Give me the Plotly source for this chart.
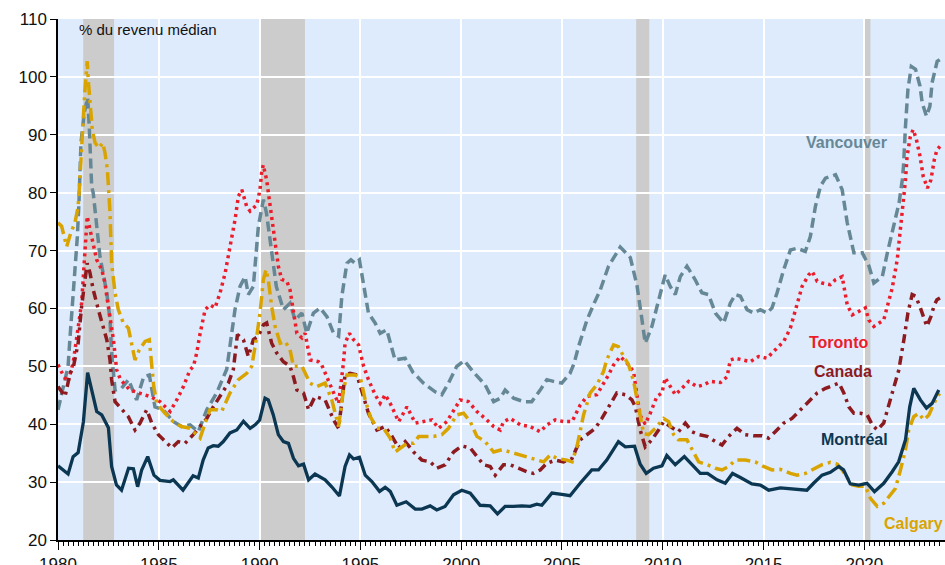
import plotly.graph_objects as go

# ---------------- data ----------------
mtl_x = [1980.0, 1980.5, 1980.75, 1981.0, 1981.26, 1981.47, 1981.92, 1982.17, 1982.5, 1982.66, 1982.9, 1983.15, 1983.5, 1983.74, 1983.95, 1984.15, 1984.45, 1984.76, 1985.06, 1985.56, 1985.72, 1986.2, 1986.7, 1986.96, 1987.2, 1987.45, 1987.7, 1987.95, 1988.2, 1988.53, 1988.87, 1989.2, 1989.53, 1989.78, 1990.0, 1990.27, 1990.43, 1990.68, 1990.93, 1991.18, 1991.43, 1991.68, 1991.93, 1992.18, 1992.43, 1992.75, 1993.25, 1993.58, 1993.96, 1994.24, 1994.46, 1994.66, 1994.95, 1995.24, 1995.57, 1995.95, 1996.23, 1996.48, 1996.81, 1997.27, 1997.72, 1998.05, 1998.46, 1998.79, 1999.2, 1999.62, 2000.03, 2000.45, 2000.94, 2001.44, 2001.8, 2002.18, 2002.6, 2003.01, 2003.42, 2003.75, 2004.0, 2004.5, 2004.99, 2005.4, 2005.9, 2006.48, 2006.81, 2007.22, 2007.8, 2008.14, 2008.6, 2008.88, 2009.18, 2009.54, 2009.96, 2010.2, 2010.62, 2011.07, 2011.45, 2011.86, 2012.22, 2012.69, 2013.1, 2013.46, 2013.85, 2014.42, 2014.84, 2015.25, 2015.83, 2016.49, 2017.15, 2017.48, 2017.9, 2018.31, 2018.73, 2018.97, 2019.3, 2019.72, 2020.13, 2020.5, 2020.96, 2021.38, 2021.7, 2022.04, 2022.25, 2022.45, 2022.78, 2023.08, 2023.36, 2023.69]
mtl_y = [32.8, 31.4, 34.4, 35.1, 40.4, 48.9, 42.2, 41.6, 39.4, 32.7, 29.5, 28.6, 32.4, 32.3, 29.2, 32.1, 34.4, 31.2, 30.3, 30.1, 30.4, 28.6, 31.1, 30.7, 33.8, 35.9, 36.3, 36.2, 37.0, 38.5, 39.0, 40.5, 39.3, 39.9, 40.7, 44.5, 44.2, 41.6, 38.2, 37.0, 36.7, 34.1, 32.8, 33.1, 30.4, 31.4, 30.4, 29.2, 27.6, 32.7, 34.7, 34.0, 34.3, 31.2, 30.1, 28.4, 29.1, 28.4, 26.0, 26.6, 25.35, 25.35, 25.9, 25.2, 25.8, 27.8, 28.6, 28.1, 26.0, 25.9, 24.5, 25.8, 25.8, 25.9, 25.8, 26.2, 26.0, 28.1, 27.9, 27.65, 29.8, 32.1, 32.1, 33.8, 37.0, 36.1, 36.2, 33.1, 31.5, 32.4, 32.8, 34.6, 33.0, 34.4, 33.0, 31.5, 31.5, 30.4, 29.8, 31.5, 30.8, 29.7, 29.5, 28.6, 29.0, 28.8, 28.6, 29.8, 31.2, 31.7, 32.7, 32.1, 29.7, 29.5, 29.8, 28.35, 29.8, 31.8, 33.5, 37.3, 43.0, 46.2, 44.2, 42.8, 43.6, 45.9]

van_x = [1980.0, 1980.5, 1980.6, 1980.77, 1980.96, 1981.04, 1981.14, 1981.3, 1981.47, 1981.55, 1981.67, 1981.75, 1981.92, 1982.08, 1982.42, 1982.58, 1982.66, 1982.83, 1983.15, 1983.5, 1983.9, 1984.25, 1984.53, 1984.81, 1985.22, 1985.72, 1986.13, 1986.55, 1986.96, 1987.38, 1987.87, 1988.37, 1988.53, 1988.78, 1989.03, 1989.28, 1989.44, 1989.69, 1989.94, 1990.19, 1990.34, 1990.58, 1990.83, 1991.18, 1991.51, 1991.76, 1992.1, 1992.34, 1992.67, 1993.0, 1993.34, 1993.67, 1993.92, 1994.08, 1994.33, 1994.53, 1994.74, 1994.95, 1995.16, 1995.4, 1995.73, 1995.98, 1996.31, 1996.56, 1996.72, 1997.22, 1997.6, 1998.13, 1998.71, 1999.04, 1999.37, 1999.78, 2000.15, 2000.61, 2001.19, 2001.61, 2001.94, 2002.18, 2002.6, 2003.1, 2003.5, 2003.92, 2004.25, 2004.58, 2004.99, 2005.4, 2005.6, 2005.82, 2006.24, 2006.57, 2006.9, 2007.31, 2007.89, 2008.39, 2008.72, 2008.97, 2009.13, 2009.46, 2009.79, 2010.12, 2010.37, 2010.62, 2010.87, 2011.2, 2011.61, 2011.94, 2012.27, 2012.61, 2013.02, 2013.35, 2013.6, 2013.85, 2014.18, 2014.51, 2014.84, 2015.17, 2015.42, 2015.67, 2016.0, 2016.33, 2016.66, 2017.07, 2017.32, 2017.57, 2017.82, 2018.07, 2018.57, 2018.9, 2019.15, 2019.48, 2019.9, 2020.23, 2020.47, 2020.89, 2021.14, 2021.47, 2021.72, 2021.88, 2021.94, 2022.04, 2022.16, 2022.33, 2022.54, 2022.76, 2022.87, 2023.08, 2023.25, 2023.36, 2023.61, 2023.75]
van_y = [42.5, 50.0, 55.2, 63.2, 72.4, 78.3, 88.6, 93.8, 96.4, 91.5, 81.1, 79.9, 73.6, 69.0, 62.7, 58.0, 52.3, 45.9, 46.2, 47.7, 44.2, 48.2, 48.5, 43.0, 42.5, 40.45, 39.6, 39.9, 38.7, 42.5, 45.4, 49.5, 53.5, 59.8, 63.8, 65.5, 62.4, 63.8, 74.2, 78.8, 76.5, 70.7, 63.8, 59.8, 60.9, 58.0, 59.2, 55.7, 59.2, 60.1, 58.6, 55.7, 55.2, 62.1, 67.8, 68.4, 67.8, 68.4, 63.8, 59.2, 57.5, 55.7, 56.3, 53.4, 51.1, 51.4, 49.0, 47.1, 45.6, 45.1, 47.1, 50.0, 51.0, 49.0, 46.8, 43.9, 44.5, 45.9, 44.5, 43.9, 43.9, 45.9, 47.7, 47.4, 47.1, 48.8, 50.5, 53.4, 58.0, 60.7, 63.2, 67.3, 70.6, 68.8, 64.0, 58.0, 54.0, 56.9, 61.5, 65.8, 63.8, 62.4, 65.5, 67.3, 64.95, 62.7, 62.4, 59.2, 57.5, 60.9, 62.4, 62.1, 59.8, 59.2, 59.8, 59.2, 60.1, 62.7, 66.7, 70.1, 70.4, 69.85, 72.4, 77.6, 81.1, 82.5, 83.1, 80.5, 74.8, 69.6, 69.6, 67.3, 64.4, 65.5, 69.6, 74.2, 78.2, 82.2, 84.5, 91.5, 97.8, 101.8, 101.3, 98.4, 95.5, 93.2, 94.9, 99.0, 102.7, 103.0]

tor_x = [1980.0, 1980.25, 1980.5, 1980.75, 1981.17, 1981.33, 1981.45, 1981.59, 1981.75, 1981.92, 1982.17, 1982.33, 1982.42, 1982.58, 1982.75, 1982.91, 1983.1, 1983.57, 1983.98, 1984.56, 1985.06, 1985.56, 1985.89, 1986.22, 1986.55, 1986.72, 1986.88, 1987.05, 1987.3, 1987.54, 1987.79, 1988.04, 1988.29, 1988.54, 1988.78, 1988.95, 1989.12, 1989.36, 1989.53, 1989.86, 1990.02, 1990.1, 1990.18, 1990.35, 1990.48, 1990.6, 1990.77, 1990.93, 1991.1, 1991.35, 1991.51, 1991.68, 1991.85, 1992.1, 1992.26, 1992.51, 1992.92, 1993.08, 1993.25, 1993.42, 1993.75, 1993.92, 1994.08, 1994.16, 1994.24, 1994.46, 1994.66, 1994.91, 1995.16, 1995.4, 1995.73, 1995.98, 1996.23, 1996.48, 1996.9, 1997.31, 1997.72, 1998.13, 1998.55, 1998.88, 1999.29, 1999.7, 1999.95, 2000.36, 2000.78, 2001.19, 2001.61, 2001.94, 2002.1, 2002.43, 2002.93, 2003.42, 2003.92, 2004.25, 2004.67, 2005.08, 2005.5, 2005.9, 2006.24, 2006.73, 2006.98, 2007.31, 2007.56, 2007.89, 2008.22, 2008.55, 2008.72, 2008.88, 2009.13, 2009.38, 2009.71, 2009.96, 2010.12, 2010.37, 2010.62, 2010.87, 2011.28, 2011.7, 2012.03, 2012.36, 2012.86, 2013.19, 2013.35, 2013.6, 2014.01, 2014.34, 2014.75, 2015.17, 2015.58, 2016.0, 2016.33, 2016.58, 2016.91, 2017.24, 2017.41, 2017.66, 2017.9, 2018.31, 2018.56, 2018.9, 2019.15, 2019.4, 2019.72, 2020.05, 2020.22, 2020.47, 2020.96, 2021.14, 2021.38, 2021.63, 2021.8, 2021.94, 2022.04, 2022.12, 2022.28, 2022.42, 2022.58, 2022.76, 2022.92, 2023.13, 2023.3, 2023.47, 2023.6, 2023.75]
tor_y = [50.3, 48.5, 47.3, 50.6, 60.9, 70.7, 75.9, 73.6, 70.7, 68.4, 66.7, 64.4, 62.1, 58.6, 54.6, 49.4, 47.7, 45.9, 45.4, 44.8, 43.9, 42.2, 44.2, 46.5, 49.4, 50.0, 52.3, 55.7, 59.8, 60.6, 60.1, 62.7, 66.1, 70.7, 75.3, 79.4, 80.5, 77.6, 76.8, 77.9, 80.5, 83.4, 84.8, 82.2, 78.8, 74.8, 70.7, 67.3, 65.0, 64.7, 63.2, 59.2, 55.7, 54.9, 55.7, 51.1, 50.8, 50.25, 48.8, 47.7, 44.8, 43.6, 47.7, 50.6, 54.0, 55.7, 54.6, 53.7, 50.0, 47.7, 45.1, 43.6, 45.1, 43.6, 40.45, 43.0, 40.2, 40.45, 40.75, 39.3, 40.45, 42.8, 44.2, 43.9, 42.2, 41.0, 39.6, 39.0, 40.45, 41.0, 39.9, 39.6, 38.7, 39.9, 40.75, 40.45, 40.45, 43.3, 44.8, 45.1, 46.5, 48.5, 50.25, 51.7, 50.6, 49.1, 45.0, 41.5, 40.0, 41.9, 44.8, 45.4, 48.0, 46.5, 45.1, 45.9, 47.4, 46.5, 46.8, 47.4, 47.2, 48.2, 51.1, 51.4, 51.1, 50.8, 51.7, 51.4, 52.85, 54.3, 56.6, 59.8, 63.8, 65.8, 66.4, 64.7, 64.4, 64.1, 64.95, 65.5, 60.6, 58.9, 59.5, 60.1, 58.0, 56.9, 58.0, 60.4, 63.5, 68.4, 73.6, 78.8, 82.2, 86.3, 89.7, 90.9, 89.2, 86.3, 82.8, 80.8, 82.2, 85.7, 87.4, 88.0]

can_x = [1980.0, 1980.35, 1980.6, 1980.77, 1981.0, 1981.17, 1981.34, 1981.45, 1981.59, 1981.75, 1982.0, 1982.25, 1982.42, 1982.58, 1982.66, 1982.83, 1983.16, 1983.49, 1983.82, 1984.07, 1984.4, 1984.65, 1984.98, 1985.31, 1985.65, 1985.97, 1986.3, 1986.71, 1987.05, 1987.38, 1987.7, 1988.04, 1988.45, 1988.7, 1988.9, 1989.2, 1989.44, 1989.69, 1989.94, 1990.19, 1990.35, 1990.6, 1990.85, 1991.18, 1991.51, 1991.68, 1991.85, 1992.18, 1992.43, 1992.75, 1993.25, 1993.67, 1993.92, 1994.24, 1994.49, 1994.83, 1995.07, 1995.4, 1995.82, 1996.23, 1996.57, 1996.9, 1997.22, 1997.64, 1998.05, 1998.46, 1998.79, 1999.2, 1999.62, 2000.03, 2000.45, 2000.78, 2001.11, 2001.44, 2001.69, 2002.1, 2002.43, 2002.84, 2003.25, 2003.58, 2003.92, 2004.25, 2004.67, 2005.08, 2005.5, 2005.9, 2006.24, 2006.65, 2006.98, 2007.31, 2007.72, 2008.14, 2008.47, 2008.64, 2008.88, 2009.13, 2009.46, 2009.79, 2010.04, 2010.37, 2010.78, 2011.12, 2011.45, 2011.78, 2012.2, 2012.61, 2012.94, 2013.27, 2013.68, 2014.09, 2014.51, 2014.92, 2015.25, 2015.58, 2016.0, 2016.41, 2016.82, 2017.24, 2017.66, 2018.07, 2018.49, 2018.74, 2018.98, 2019.23, 2019.48, 2019.81, 2020.14, 2020.39, 2020.64, 2020.96, 2021.21, 2021.46, 2021.71, 2021.96, 2022.16, 2022.37, 2022.54, 2022.76, 2022.96, 2023.1, 2023.3, 2023.47, 2023.6, 2023.75]
can_y = [46.5, 44.8, 48.8, 50.0, 54.0, 60.3, 64.95, 67.8, 66.1, 63.2, 59.8, 56.9, 54.6, 51.1, 47.7, 43.9, 42.5, 41.3, 39.0, 40.2, 42.5, 40.2, 38.2, 37.0, 35.9, 37.0, 36.7, 38.2, 39.6, 41.0, 43.0, 44.8, 47.1, 49.5, 55.5, 54.6, 51.7, 54.6, 55.2, 57.2, 57.5, 54.0, 52.3, 50.8, 50.0, 48.2, 45.9, 45.4, 42.5, 44.8, 44.2, 40.75, 39.3, 48.5, 48.8, 48.5, 45.6, 41.9, 39.0, 39.6, 37.9, 35.9, 37.0, 35.2, 33.8, 33.5, 32.4, 33.0, 35.2, 36.25, 35.9, 34.4, 33.0, 32.7, 31.2, 33.0, 33.0, 32.4, 31.8, 31.5, 32.1, 33.25, 33.8, 33.5, 34.1, 37.3, 38.2, 39.3, 41.0, 43.0, 45.4, 45.1, 44.2, 43.0, 39.0, 36.1, 37.3, 39.0, 40.45, 39.6, 38.7, 40.2, 38.7, 38.2, 37.9, 37.0, 36.4, 37.9, 39.3, 38.2, 38.0, 38.0, 37.6, 38.7, 40.2, 41.0, 42.5, 43.9, 45.4, 46.2, 46.8, 47.1, 45.4, 43.0, 41.9, 41.9, 41.6, 39.9, 39.0, 40.2, 43.3, 46.5, 49.4, 54.6, 59.2, 62.4, 62.1, 60.3, 58.3, 56.9, 58.6, 60.6, 61.5, 61.8]

cal_x = [1980.0, 1980.18, 1980.43, 1980.63, 1980.84, 1981.0, 1981.08, 1981.17, 1981.26, 1981.34, 1981.45, 1981.5, 1981.59, 1981.7, 1981.84, 1982.03, 1982.22, 1982.33, 1982.45, 1982.53, 1982.58, 1982.66, 1982.83, 1982.99, 1983.24, 1983.49, 1983.65, 1983.82, 1984.03, 1984.32, 1984.53, 1984.65, 1984.75, 1984.9, 1985.31, 1985.72, 1986.13, 1986.55, 1986.88, 1987.05, 1987.3, 1987.54, 1987.87, 1988.12, 1988.53, 1988.95, 1989.36, 1989.61, 1989.86, 1990.02, 1990.19, 1990.32, 1990.43, 1990.6, 1990.77, 1991.02, 1991.27, 1991.51, 1991.68, 1992.1, 1992.5, 1992.83, 1993.25, 1993.58, 1993.92, 1994.16, 1994.33, 1994.74, 1995.0, 1995.24, 1995.49, 1995.82, 1996.15, 1996.48, 1996.72, 1996.97, 1997.31, 1997.64, 1997.89, 1998.22, 1998.63, 1999.04, 1999.37, 1999.78, 2000.12, 2000.45, 2000.78, 2001.19, 2001.61, 2002.02, 2002.43, 2002.93, 2003.42, 2003.75, 2004.09, 2004.42, 2004.75, 2005.24, 2005.5, 2005.74, 2006.07, 2006.4, 2006.73, 2007.06, 2007.22, 2007.56, 2007.8, 2007.97, 2008.3, 2008.55, 2008.8, 2009.05, 2009.3, 2009.63, 2010.04, 2010.29, 2010.54, 2010.78, 2011.2, 2011.45, 2011.78, 2012.2, 2012.61, 2012.94, 2013.27, 2013.6, 2014.09, 2014.59, 2015.0, 2015.42, 2015.83, 2016.33, 2016.66, 2017.07, 2017.48, 2017.9, 2018.31, 2018.65, 2018.9, 2019.15, 2019.4, 2019.72, 2020.05, 2020.3, 2020.64, 2020.96, 2021.21, 2021.54, 2021.79, 2022.04, 2022.2, 2022.45, 2022.7, 2022.95, 2023.2, 2023.47, 2023.61, 2023.75]
cal_y = [74.8, 74.2, 70.7, 73.0, 74.8, 77.6, 82.0, 88.6, 93.2, 97.8, 102.7, 99.5, 95.5, 90.9, 88.6, 87.7, 88.6, 86.9, 84.0, 79.9, 76.5, 67.8, 62.7, 59.8, 57.5, 56.6, 54.0, 51.1, 52.85, 54.3, 54.6, 50.0, 46.5, 43.6, 41.9, 40.45, 39.6, 39.3, 38.2, 37.6, 40.2, 42.5, 42.5, 42.2, 45.4, 47.7, 48.8, 50.0, 55.2, 59.2, 65.0, 66.7, 65.0, 60.3, 56.9, 54.0, 54.3, 52.85, 50.0, 50.0, 47.1, 46.5, 47.1, 44.2, 39.6, 45.9, 48.5, 48.5, 48.0, 44.2, 41.3, 39.3, 39.3, 37.6, 35.2, 35.9, 36.7, 36.7, 37.9, 37.9, 37.9, 38.2, 39.3, 41.6, 41.9, 40.45, 37.9, 37.0, 35.2, 35.6, 35.2, 34.7, 34.1, 33.8, 33.5, 34.7, 34.1, 33.8, 33.5, 36.1, 41.6, 45.4, 46.8, 49.1, 51.1, 53.7, 53.4, 52.3, 50.3, 47.5, 43.0, 38.4, 38.2, 39.3, 41.0, 40.45, 38.2, 37.3, 37.3, 35.6, 33.5, 33.0, 32.4, 32.1, 32.7, 33.8, 33.8, 33.5, 32.7, 32.1, 32.2, 31.5, 31.2, 31.5, 32.2, 33.0, 33.4, 33.1, 32.1, 30.7, 29.5, 29.3, 29.3, 27.2, 25.8, 26.35, 27.5, 28.9, 32.1, 35.6, 39.0, 41.3, 41.9, 40.75, 41.6, 43.6, 44.8, 45.3]

recession_start = [1981.25, 1990.0, 2008.68, 2020.0]
recession_end = [1982.78, 1992.25, 2009.33, 2020.3]

series_names = ["Vancouver", "Toronto", "Canada", "Calgary", "Montréal"]
label_x = [2019.1, 2018.7, 2018.95, 2024.0, 2019.5]
label_y = [88.6, 54.1, 49.1, 22.9, 37.3]
label_anchor = ["center", "center", "center", "right", "center"]

x_ticks = [1980, 1985, 1990, 1995, 2000, 2005, 2010, 2015, 2020]
y_ticks = [20, 30, 40, 50, 60, 70, 80, 90, 100, 110]
unit_text = "% du revenu médian"

# ---------------- styles ----------------
colors = {
    "Vancouver": "#668896",
    "Toronto": "#EC1C2A",
    "Canada": "#8C1A1E",
    "Calgary": "#DAA400",
    "Montréal": "#0B3752",
}
dashes = {
    "Vancouver": "10px,5px",
    "Toronto": "3px,4px",
    "Canada": "9px,5px,3px,5px",
    "Calgary": "13px,5px,3px,5px",
    "Montréal": "solid",
}
widths = {"Vancouver": 3.5, "Toronto": 3.5, "Canada": 3.5, "Calgary": 3.5, "Montréal": 3.3}
data = {
    "Vancouver": (van_x, van_y),
    "Toronto": (tor_x, tor_y),
    "Canada": (can_x, can_y),
    "Calgary": (cal_x, cal_y),
    "Montréal": (mtl_x, mtl_y),
}
FONT = "Liberation Sans, Arial, sans-serif"

fig = go.Figure()
for name in series_names:
    xs, ys = data[name]
    fig.add_trace(go.Scatter(
        x=xs, y=ys, mode="lines", name=name,
        line=dict(color=colors[name], width=widths[name], dash=dashes[name]),
        hoverinfo="skip", showlegend=False,
    ))

for x0, x1 in zip(recession_start, recession_end):
    fig.add_shape(type="rect", xref="x", yref="paper", x0=x0, x1=x1, y0=0, y1=1,
                  fillcolor="#CCCCCC", line=dict(width=0), layer="below")

for name, lx, ly, anc in zip(series_names, label_x, label_y, label_anchor):
    fig.add_annotation(x=lx, y=ly, xref="x", yref="y", text="<b>%s</b>" % name,
                       showarrow=False, xanchor=anc,
                       font=dict(size=16, color=colors[name], family=FONT))

fig.add_annotation(x=1980.95, y=108.2, xref="x", yref="y", text=unit_text,
                   showarrow=False, xanchor="left", yanchor="middle",
                   font=dict(size=15, color="#111111", family=FONT))

fig.update_layout(
    width=945, height=565, autosize=False,
    margin=dict(l=58, r=0, t=19, b=25, autoexpand=False),
    paper_bgcolor="white",
    plot_bgcolor="#DEEBFC",
    font=dict(family=FONT, size=17, color="#111111"),
    xaxis=dict(
        range=[1980, 2024], tickmode="array", tickvals=x_ticks,
        ticks="outside", ticklen=8, tickwidth=1.3, tickcolor="black",
        showline=True, linecolor="black", linewidth=1.5,
        showgrid=True, gridcolor="white", gridwidth=1.5, zeroline=False,
        minor=dict(dtick=0.25, tick0=1980, ticks="outside", ticklen=4, tickcolor="black", tickwidth=1, showgrid=False),
        tickfont=dict(size=17), automargin=False,
    ),
    yaxis=dict(
        range=[20, 110], tickmode="array", tickvals=y_ticks,
        ticks="outside", ticklen=6, tickwidth=1.3, tickcolor="black",
        showline=True, linecolor="black", linewidth=1.5,
        showgrid=True, gridcolor="white", gridwidth=1.5, zeroline=False,
        tickfont=dict(size=17), automargin=False,
    ),
)

post = ("document.body.style.margin='0';document.body.style.overflow='hidden';"
        "var gd=document.getElementById('{plot_id}');"
        "Plotly.relayout(gd,{width:945,height:565});")
fig.write_html("out.html", config={"responsive": False, "displayModeBar": False}, post_script=post)
